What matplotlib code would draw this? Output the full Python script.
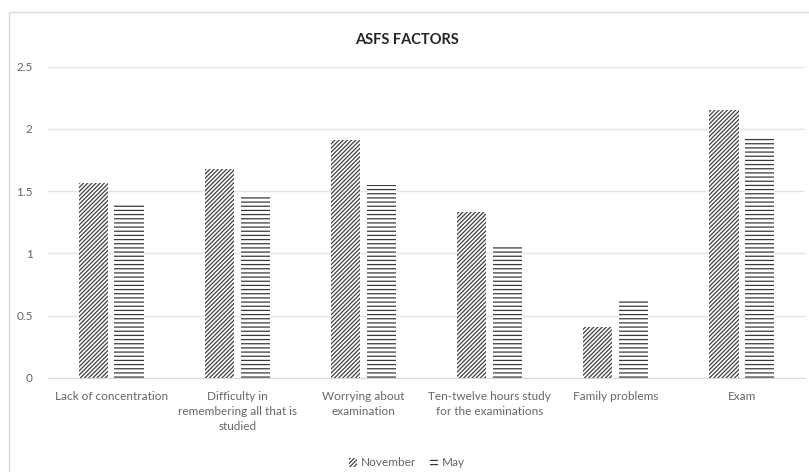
import matplotlib
matplotlib.use("Agg")
import matplotlib.pyplot as plt
from matplotlib.patches import Rectangle
import numpy as np

categories = [
    "Lack of concentration",
    "Difficulty in\nremembering all that is\nstudied",
    "Worrying about\nexamination",
    "Ten-twelve hours study\nfor the examinations",
    "Family problems",
    "Exam",
]
november = [1.57, 1.68, 1.91, 1.33, 0.41, 2.15]
may = [1.40, 1.45, 1.55, 1.06, 0.63, 1.93]
yticks = [0, 0.5, 1, 1.5, 2, 2.5]
ytick_labels = ["0", "0.5", "1", "1.5", "2", "2.5"]

plt.rcParams["font.family"] = ["Lato", "DejaVu Sans"]
plt.rcParams["hatch.linewidth"] = 0.9

W, H = 809, 472
fig = plt.figure(figsize=(W / 100, H / 100), dpi=100)

# chart frame
fig.patches.append(Rectangle((9 / W, -0.05), 1.2, 1 - 12 / H + 0.05,
                             transform=fig.transFigure, fill=False,
                             edgecolor="#d9d9d9", linewidth=1.0))

ax = fig.add_axes([48 / W, 1 - 378 / H, (805 - 48) / W, (378 - 66.7) / H])
x = np.arange(len(categories))
bw = 0.23
off = 0.142
ax.bar(x - off, november, bw, facecolor="white", edgecolor="#404040",
       linewidth=0, hatch="////////", label="November", zorder=3)
ax.bar(x + off, may, bw, facecolor="white", edgecolor="#3a3a3a",
       linewidth=0, hatch="----", label="May", zorder=3)

ax.set_xlim(-0.5, len(categories) - 0.5)
ax.set_ylim(0, 2.5)
ax.set_yticks(yticks)
ax.set_yticklabels(ytick_labels)
ax.set_xticks(x)
ax.set_xticklabels(categories, linespacing=1.5)
ax.tick_params(axis="both", length=0, labelsize=8.5, colors="#666666")
ax.tick_params(axis="y", pad=11)
ax.tick_params(axis="x", pad=9)
for lab in ax.get_xticklabels():
    lab.set_verticalalignment("top")
ax.grid(axis="y", color="#e4e4e4", linewidth=1.0, zorder=0)
for s in ["left", "right", "top"]:
    ax.spines[s].set_visible(False)
ax.spines["bottom"].set_color("#d9d9d9")

fig.text(407 / W, 1 - 40 / H, "ASFS FACTORS", ha="center", va="center",
         fontsize=10.5, fontweight="bold", color="#262626")

leg = fig.legend(loc="center", bbox_to_anchor=(407 / W, 1 - 463 / H),
                 ncol=2, frameon=False, fontsize=8.5, handlelength=0.7,
                 handleheight=0.7, handletextpad=0.3, columnspacing=1.2)
for t in leg.get_texts():
    t.set_color("#666666")

fig.savefig("out.png", dpi=100)
